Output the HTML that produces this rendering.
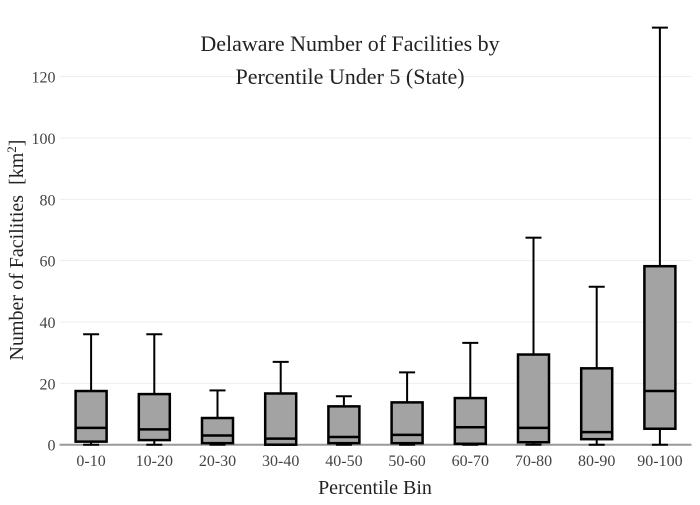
<!DOCTYPE html>
<html><head><meta charset="utf-8"><style>
body{margin:0;background:#fff}
svg, svg text{font-family:"Liberation Serif","DejaVu Serif","Times New Roman",serif}
</style></head><body>
<svg id="chart" width="700" height="500">
<g id="grid"></g>
<text x="350" y="51" text-anchor="middle" font-size="22" fill="#222">Delaware Number of Facilities by</text>
<text x="350" y="84" text-anchor="middle" font-size="22" fill="#222">Percentile Under 5 (State)</text>
<text x="375" y="494" text-anchor="middle" font-size="20" fill="#222">Percentile Bin</text>
<text transform="translate(23,250) rotate(-90)" text-anchor="middle" font-size="20" fill="#222" xml:space="preserve">Number of Facilities  [km<tspan baseline-shift="super" font-size="13">2</tspan>]</text>
<g id="boxes"></g><g id="ticks"></g>
</svg>
<script>
const categories=["0-10","10-20","20-30","30-40","40-50","50-60","60-70","70-80","80-90","90-100"];
const mins=[0,0,0,0,0,0,0,0,0,0];
const q1s=[1,1.5,0.5,0,0.5,0.5,0.3,0.8,1.8,5.2];
const medians=[5.5,5,3,2,2.5,3.2,5.7,5.5,4.1,17.5];
const q3s=[17.5,16.5,8.7,16.7,12.5,13.8,15.2,29.4,24.9,58.2];
const maxs=[36,36,17.7,27,15.8,23.6,33.2,67.5,51.5,136];
const yTicks=[0,20,40,60,80,100,120];
const NS="http://www.w3.org/2000/svg";
const x0=59.5,x1=691.5,yZero=444.7,pxPer=3.067;
const band=(x1-x0)/categories.length;
const xc=i=>x0+band*(i+0.5);
const y=v=>yZero-v*pxPer;
function mk(t,a,p){const e=document.createElementNS(NS,t);for(const k in a)e.setAttribute(k,a[k]);p.appendChild(e);return e;}
const grid=document.getElementById('grid'),boxes=document.getElementById('boxes'),ticks=document.getElementById('ticks');
yTicks.forEach(v=>{
 if(v>0){const g=mk('line',{x1:x0,x2:x1,y1:y(v),y2:y(v),stroke:'#eee','stroke-width':1},grid);
 
 }
 const t=mk('text',{x:x0-4,y:y(v)+6,'text-anchor':'end','font-size':16,fill:'#444'},ticks);
 t.textContent=v;
 
 
});
const ax=mk('line',{x1:x0,x2:x1,y1:yZero,y2:yZero,stroke:'#999','stroke-width':2},grid);


const hw=15.5,cw=8;
categories.forEach((c,i)=>{
 const cx=xc(i);
 const g=mk('g',{stroke:'#000','stroke-width':2.5},boxes);
 
 
 mk('line',{x1:cx,x2:cx,y1:y(q3s[i]),y2:y(maxs[i]),'stroke-width':2},g);
 mk('line',{x1:cx-cw,x2:cx+cw,y1:y(maxs[i]),y2:y(maxs[i]),'stroke-width':2},g);
 mk('line',{x1:cx,x2:cx,y1:y(q1s[i]),y2:y(mins[i]),'stroke-width':2},g);
 mk('line',{x1:cx-cw,x2:cx+cw,y1:y(mins[i]),y2:y(mins[i]),'stroke-width':2},g);
 mk('rect',{x:cx-hw,y:y(q3s[i]),width:hw*2,height:Math.max(0,y(q1s[i])-y(q3s[i])),fill:'#a3a3a3'},g);
 mk('line',{x1:cx-hw,x2:cx+hw,y1:y(medians[i]),y2:y(medians[i])},g);
 const t=mk('text',{x:cx,y:466,'text-anchor':'middle','font-size':16,fill:'#444'},ticks);
 t.textContent=c;
 
 
});
</script>
</body></html>
